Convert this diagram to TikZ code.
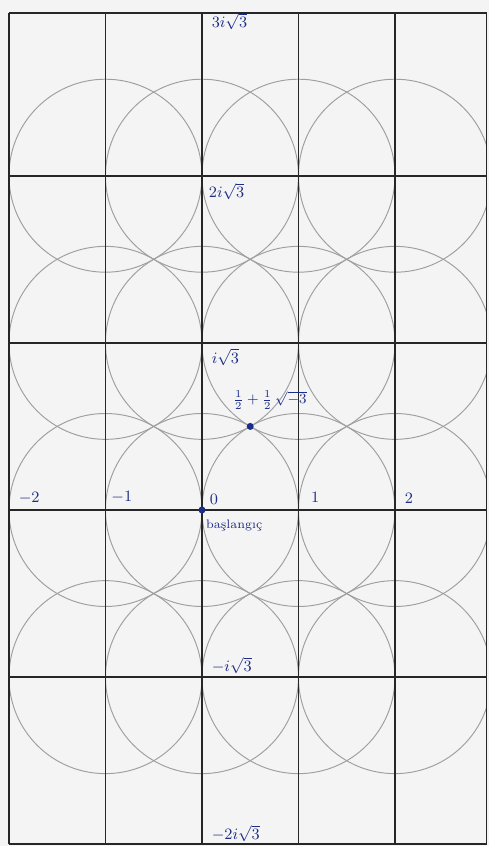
\documentclass[tikz,border=0pt]{standalone}
\usepackage{amssymb}
\usepackage{mathtools}
\usepackage{tikz}
\usetikzlibrary{positioning}
\definecolor{ink}{RGB}{28,45,135}
\definecolor{paper}{RGB}{244,244,244}
\newcommand{\rtthree}{1.7320508}

\begin{document}
\begin{tikzpicture}[x=1.93cm,y=1.93cm,
	gline/.style={draw=black!85, line width=0.9pt},
	circ/.style={draw=gray!75, line width=0.55pt},
	lbl/.style={text=ink, font=\small, inner sep=1pt, anchor=west},
	dot/.style={circle, fill=ink, inner sep=0, minimum size=4pt},
	]
	% page
	\fill[paper] (-2.093,-3.482) rectangle (2.974,5.285);
	\useasboundingbox (-2.093,-3.482) rectangle (2.974,5.285);
	
	% circles of radius 1 round m + n i sqrt3
	\begin{scope}
		\clip (-2,-2*\rtthree) rectangle (2.95,5.15);
		\foreach \m in {-1,...,2}{%
			\foreach \n in {-1,...,2}{\draw[circ] (\m,{\n*\rtthree}) circle (1);}}
	\end{scope}
	
	% grid
	\foreach \m in {-2,...,2}{\draw[gline] (\m,{-2*\rtthree}) -- (\m,5.15);}
	\draw[gline] (2.95,{-2*\rtthree}) -- (2.95,5.15);
	\foreach \n in {-2,...,2}{\draw[gline] (-2,{\n*\rtthree}) -- (2.95,{\n*\rtthree});}
	\draw[gline] (-2,5.15) -- (2.95,5.15);
	
	% points
	\node[dot] (o) at (0,0) {};
	\node[dot] (w) at (0.5,{\rtthree/2}) {};
	
	% labels
	\node[lbl] (im3) at (0.08,5.06) {$3i\sqrt{3}$};
	\node[lbl] (im2) at (0.05,3.30) {$2i\sqrt{3}$};
	\node[lbl] (im1) at (0.08,1.585) {$i\sqrt{3}$};
	\node[lbl] (imm1) at (0.08,-1.61) {$-i\sqrt{3}$};
	\node[lbl] (imm2) at (0.08,-3.35) {$-2i\sqrt{3}$};
	\node[lbl, font=\footnotesize] (wl) at (0.3,1.14) {$\frac{1}{2}+\frac{1}{2}\,\sqrt{-3}$};
	\node[lbl] (re0) at (0.06,0.11) {$0$};
	\node[lbl] (rem2) at (-1.92,0.12) {$-2$};
	\node[lbl] (rem1) at (-0.96,0.135) {$-1$};
	\node[lbl] (re1) at (1.11,0.135) {$1$};
	\node[lbl] (re2) at (2.08,0.12) {$2$};
	\node[lbl, font=\scriptsize] (orig) at (0.02,-0.16) {başlangıç};
\end{tikzpicture}
\end{document}
